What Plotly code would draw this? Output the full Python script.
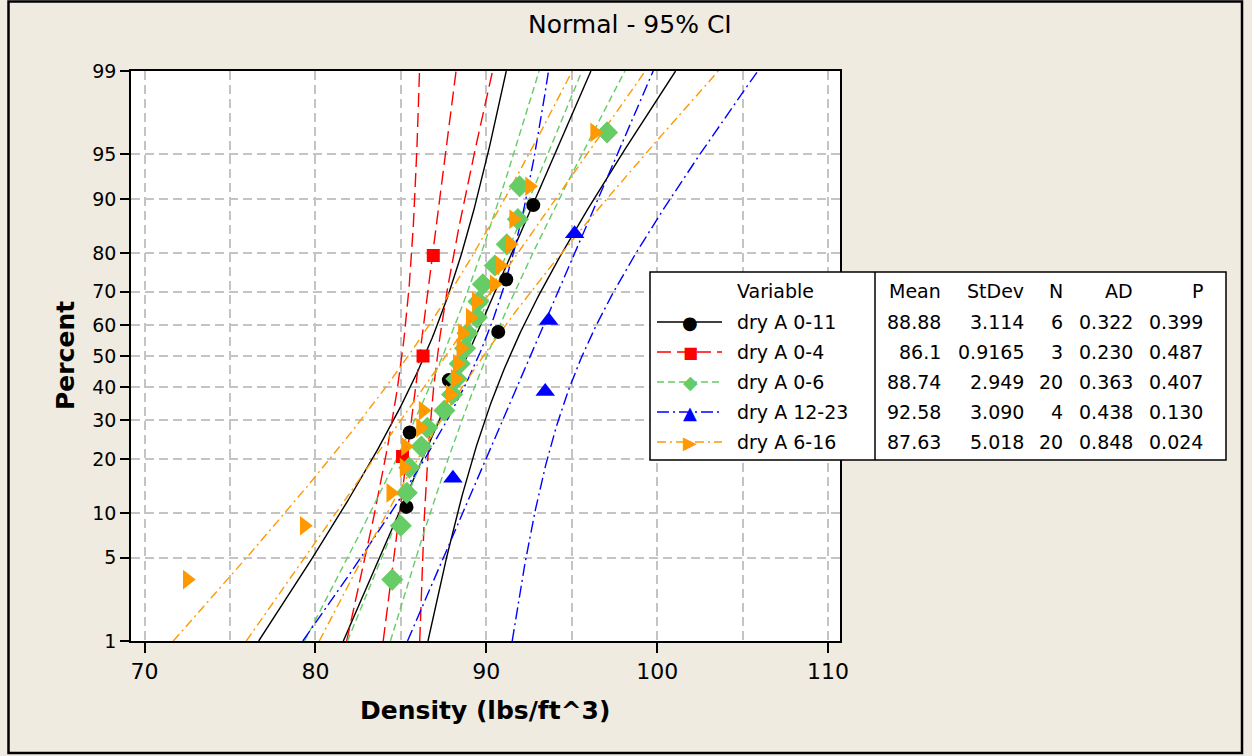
import numpy as np
import plotly.graph_objects as go
from statistics import NormalDist

W, H = 1252, 756
ND = NormalDist()
FONT = "DejaVu Sans"
BEIGE = "#EFEBE1"

# ---------------- data ----------------
series_names = ["dry A 0-11", "dry A 0-4", "dry A 0-6", "dry A 12-23", "dry A 6-16"]

black_pct = [10.9, 26.6, 42.2, 57.8, 73.4, 89.1]
black_val = [85.33, 85.52, 87.81, 90.70, 91.17, 92.75]

red_pct = [20.6, 50.0, 79.4]
red_val = [85.1, 86.3, 86.9]

green_pct = [3.4, 8.3, 13.2, 18.1, 23.0, 27.9, 32.8, 37.7, 42.6, 47.5,
             52.5, 57.4, 62.3, 67.2, 72.1, 77.0, 81.9, 86.8, 91.7, 96.6]
green_val = [84.5, 85.0, 85.35, 85.5, 86.2, 86.55, 87.55, 88.0, 88.25, 88.45,
             88.76, 88.9, 89.45, 89.54, 89.8, 90.5, 91.2, 91.85, 91.95, 97.07]

blue_pct = [15.9, 38.6, 61.4, 84.1]
blue_val = [88.05, 93.45, 93.65, 95.17]

orange_pct = [3.4, 8.3, 13.2, 18.1, 23.0, 27.9, 32.8, 37.7, 42.6, 47.5,
              52.5, 57.4, 62.3, 67.2, 72.1, 77.0, 81.9, 86.8, 91.7, 96.6]
orange_val = [72.5, 79.35, 84.41, 85.19, 85.27, 86.15, 86.3, 87.89, 88.18, 88.3,
              88.51, 88.6, 89.06, 89.41, 90.46, 90.81, 91.4, 91.6, 92.53, 96.34]

means = [88.88, 86.1, 88.74, 92.58, 87.63]
stdevs = [3.114, 0.9165, 2.949, 3.090, 5.018]
ns = [6, 3, 20, 4, 20]
mean_txt = ["88.88", "86.1", "88.74", "92.58", "87.63"]
stdev_txt = ["3.114", "0.9165", "2.949", "3.090", "5.018"]
n_txt = ["6", "3", "20", "4", "20"]
ad_txt = ["0.322", "0.230", "0.363", "0.438", "0.848"]
p_txt = ["0.399", "0.487", "0.407", "0.130", "0.024"]

pct_ticks = [1, 5, 10, 20, 30, 40, 50, 60, 70, 80, 90, 95, 99]

# ---------------- styles ----------------
pcts = [black_pct, red_pct, green_pct, blue_pct, orange_pct]
vals = [black_val, red_val, green_val, blue_val, orange_val]
colors = ["#000000", "#FF0000", "#66CC66", "#0000FF", "#FF9900"]
symbols = ["circle", "square", "diamond", "triangle-up", "triangle-right"]
msizes = [14, 13, 17, 17, 17]
dashes = ["solid", "14px,6px", "7px,4px", "12px,4px,2px,4px", "9px,4px,2px,4px"]

def z(p):
    return ND.inv_cdf(p / 100.0)

zlo, zhi = z(1), z(99)

fig = go.Figure()

zz = np.linspace(zlo, zhi, 161)
for i in range(5):
    m, s, n = means[i], stdevs[i], ns[i]
    fit = m + s * zz
    half = 1.96 * s * np.sqrt(1.0 / n + zz ** 2 / (2 * n - 1))
    for xs, ys in ((fit - half, zz), ([m + s * zlo, m + s * zhi], [zlo, zhi]), (fit + half, zz)):
        fig.add_trace(go.Scatter(x=list(xs), y=list(ys), mode="lines",
                                 line=dict(color=colors[i], width=1.4, dash=dashes[i]),
                                 showlegend=False, hoverinfo="skip"))
for i in range(5):
    fig.add_trace(go.Scatter(x=vals[i], y=[z(p) for p in pcts[i]], mode="markers",
                             marker=dict(symbol=symbols[i], size=msizes[i], color=colors[i],
                                         line=dict(width=0)),
                             name=series_names[i], showlegend=False))

PX0, PX1, PY0, PY1 = 131, 840, 71, 641
grid_col, grid_dash = "#C4C4C4", "9px,5px"

fig.update_layout(
    width=W, height=H, autosize=False,
    margin=dict(l=0, r=0, t=0, b=0, pad=0),
    paper_bgcolor=BEIGE, plot_bgcolor="white",
    font=dict(family=FONT, color="black"),
    showlegend=False,
    xaxis=dict(domain=[PX0 / W, PX1 / W], range=[69.21, 110.70],
               tickmode="linear", tick0=70, dtick=10,
               ticks="outside", ticklen=10, tickwidth=1.5, tickcolor="black",
               tickfont=dict(family=FONT, size=22), showline=True, mirror=True,
               linecolor="black", linewidth=1.5, zeroline=False,
               showgrid=True, gridcolor=grid_col, gridwidth=1.5, griddash=grid_dash,
               minor=dict(tick0=70, dtick=5, showgrid=True, gridcolor=grid_col,
                          gridwidth=1.5, griddash=grid_dash),
               automargin=False),
    yaxis=dict(domain=[1 - PY1 / H, 1 - PY0 / H], range=[zlo, zhi],
               tickmode="array", tickvals=[z(p) for p in pct_ticks],
               ticktext=[str(p) for p in pct_ticks],
               ticks="outside", ticklen=9, tickwidth=1.5, tickcolor="black",
               tickfont=dict(family=FONT, size=19), showline=True, mirror=True,
               linecolor="black", linewidth=1.5, zeroline=False,
               showgrid=True, gridcolor=grid_col, gridwidth=1.5, griddash=grid_dash,
               automargin=False),
)

# ---------------- legend table (pixel positions -> paper) ----------------
def px(x):
    return x / W

def py(y):
    return 1 - y / H

LX0, LX1, LXD, LY0, LY1 = 650, 1226, 875, 272, 460
row_y = [322, 352, 382, 412, 442]

shapes = [
    dict(type="rect", xref="paper", yref="paper", x0=px(8.5), x1=px(1242), y0=py(753), y1=py(1.5),
         line=dict(color="black", width=2.5), layer="above"),
    dict(type="rect", xref="paper", yref="paper", x0=px(LX0), x1=px(LX1), y0=py(LY1), y1=py(LY0),
         fillcolor="white", line=dict(color="black", width=1.5), layer="above"),
    dict(type="line", xref="paper", yref="paper", x0=px(LXD), x1=px(LXD), y0=py(LY1), y1=py(LY0),
         line=dict(color="black", width=1.5), layer="above"),
]
for i in range(5):
    shapes.append(dict(type="line", xref="paper", yref="paper", x0=px(657), x1=px(722),
                       y0=py(row_y[i]), y1=py(row_y[i]),
                       line=dict(color=colors[i], width=1.4, dash=dashes[i]), layer="above"))
fig.update_layout(shapes=shapes)

ann = []
def txt(x, y, t, anchor="left", size=19, bold=False, angle=0):
    ann.append(dict(x=px(x), y=py(y), xref="paper", yref="paper",
                    text=("<b>%s</b>" % t) if bold else t,
                    showarrow=False, xanchor=anchor, yanchor="middle", textangle=angle,
                    font=dict(family=FONT, size=size, color="black")))

# legend markers as symbol glyph text
glyphs = ["\u25CF", "\u25A0", "\u25C6", "\u25B2", "\u25B6"]
gsize = [18, 16, 19, 18, 18]
for i in range(5):
    ann.append(dict(x=px(690), y=py(row_y[i]), xref="paper", yref="paper", text=glyphs[i],
                    showarrow=False, xanchor="center", yanchor="middle",
                    font=dict(family=FONT, size=gsize[i], color=colors[i])))

txt(735, 291, "Variable")
cols = [(943, "Mean", mean_txt), (1026, "StDev", stdev_txt), (1065, "N", n_txt),
        (1135, "AD", ad_txt), (1205, "P", p_txt)]
for cx, head, lst in cols:
    txt(cx, 291, head, anchor="right")
    for i in range(5):
        txt(cx, row_y[i], lst[i], anchor="right")
for i in range(5):
    txt(735, row_y[i], series_names[i])

txt(630, 24, "Normal - 95% CI", anchor="center", size=25)
txt(485, 710, "Density (lbs/ft^3)", anchor="center", size=25, bold=True)
txt(65, 356, "Percent", anchor="center", size=25, bold=True, angle=-90)
fig.update_layout(annotations=ann)

fig.write_html("out.html")
